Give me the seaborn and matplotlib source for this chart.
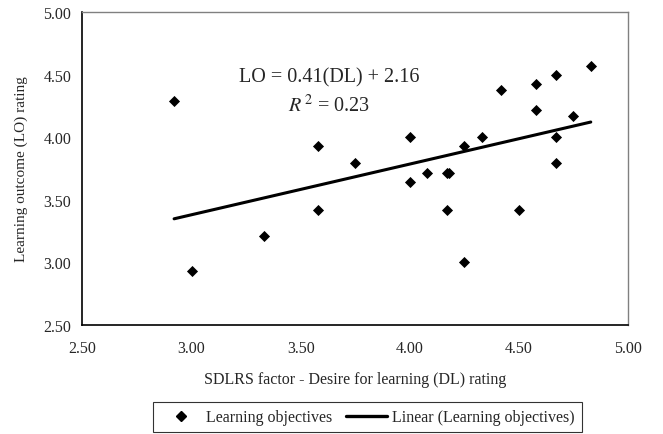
import numpy as np
import pandas as pd
import seaborn as sns
import matplotlib.pyplot as plt
from matplotlib.lines import Line2D

# SDLRS desire for learning (DL) vs learning outcome (LO)
dl_rating = [2.92, 3.00, 3.33, 3.58, 3.58, 3.75, 4.00, 4.00, 4.08, 4.17, 4.18, 4.17,
             4.25, 4.25, 4.33, 4.42, 4.50, 4.58, 4.58, 4.67, 4.67, 4.67, 4.75, 4.83]
lo_rating = [4.29, 2.93, 3.21, 3.93, 3.42, 3.79, 4.00, 3.64, 3.71, 3.71, 3.71, 3.42,
             3.93, 3.00, 4.00, 4.38, 3.42, 4.43, 4.22, 4.50, 4.00, 3.79, 4.17, 4.57]
ticks = [2.50, 3.00, 3.50, 4.00, 4.50, 5.00]

df = pd.DataFrame({'DL': dl_rating, 'LO': lo_rating})

sns.set_style('white')
plt.rcParams['font.family'] = ['Liberation Serif', 'DejaVu Serif']

fig = plt.figure(figsize=(6.63, 4.35), dpi=100)
ax = fig.add_axes([0.1244, 0.2513, 0.8226, 0.7181])

sns.scatterplot(data=df, x='DL', y='LO', marker='D', s=32, color='black',
                edgecolor='black', linewidth=0, ax=ax)
sns.regplot(data=df, x='DL', y='LO', scatter=False, ci=None, truncate=True,
            color='black', line_kws={'linewidth': 2.2}, ax=ax)

ax.set_xlim(2.5, 5.0)
ax.set_ylim(2.5, 5.0)
ax.set_xticks(ticks)
ax.set_yticks(ticks)
ax.set_xticklabels([f'{t:.2f}' for t in ticks], fontsize=11.5)
ax.set_yticklabels([f'{t:.2f}' for t in ticks], fontsize=11.5)
ax.tick_params(axis='x', direction='in', length=4, width=1, pad=11)
ax.tick_params(axis='y', direction='out', length=4, width=1, pad=4)
ax.set_xlabel('SDLRS factor - Desire for learning (DL) rating', fontsize=11.5)
ax.set_ylabel('Learning outcome (LO) rating', fontsize=11)
ax.xaxis.set_label_coords(0.5, -0.174)
ax.xaxis.label.set_va('center')
ax.yaxis.set_label_coords(-0.112, 0.5)
ax.yaxis.label.set_va('center')

for side in ['left', 'bottom']:
    ax.spines[side].set_color('black')
    ax.spines[side].set_linewidth(1.2)
for side in ['top', 'right']:
    ax.spines[side].set_color('#808080')
    ax.spines[side].set_linewidth(1.0)

ax.text(3.63, 4.485, 'LO = 0.41(DL) + 2.16', fontsize=14.5, ha='center',
        va='center')
ax.text(3.63, 4.26, r'$R^{\,2}$ = 0.23', fontsize=14.5, ha='center',
        va='center', math_fontfamily='stix')

handles = [
    Line2D([], [], marker='D', color='black', linestyle='none', markersize=5.5),
    Line2D([], [], color='black', linewidth=2.4),
]
leg = fig.legend(handles, ['Learning objectives', 'Linear (Learning objectives)'],
                 loc='lower center', bbox_to_anchor=(0.554, 0.0), ncol=2,
                 fontsize=11.5, frameon=True, fancybox=False,
                 edgecolor='black', handlelength=2.6, handletextpad=0.3,
                 columnspacing=0.8, borderpad=0.45, borderaxespad=0.1)
leg.get_frame().set_linewidth(0.8)

plt.savefig('out.png', dpi=100)
